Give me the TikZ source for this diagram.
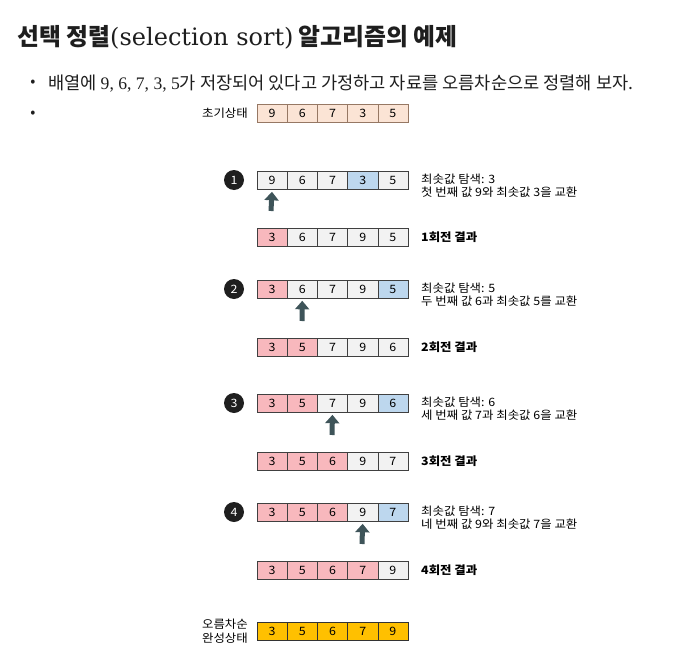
\documentclass[tikz,border=0pt]{standalone}
\usepackage{fontspec}
\setmainfont{Noto Sans CJK KR}
\newfontfamily\serifp{Liberation Serif}
\newfontfamily\serift{DejaVu Serif}
\newfontfamily\diag{Noto Sans CJK KR}[FakeStretch=1.08]
\usetikzlibrary{arrows.meta}
\definecolor{peach}{RGB}{251,228,213}
\definecolor{peachd}{RGB}{150,120,100}
\definecolor{grayc}{RGB}{242,242,242}
\definecolor{pinkc}{RGB}{248,184,189}
\definecolor{bluec}{RGB}{189,215,238}
\definecolor{goldc}{RGB}{255,192,0}
\definecolor{arrowc}{RGB}{62,84,89}
\definecolor{textc}{RGB}{30,30,30}
\tikzset{
  cell/.style={draw=black!75, line width=0.6pt, minimum width=30.2pt, minimum height=18pt, inner sep=0pt, font=\diag\fontsize{11.5}{13}\selectfont},
  lbl/.style={anchor=west, inner sep=0pt, font=\diag\fontsize{11.5}{13}\selectfont, align=left},
  res/.style={anchor=west, inner sep=0pt, font=\diag\fontsize{11.5}{13}\selectfont\bfseries},
  side/.style={inner sep=0pt, font=\diag\fontsize{11.5}{14}\selectfont},
  numc/.style={circle, fill=black!88, text=white, minimum size=20pt, inner sep=0pt, font=\diag\fontsize{11.5}{13}\selectfont},
  bigarrow/.style={draw=arrowc, line width=5pt, -{Triangle[width=14pt,length=8.5pt]}, shorten >=2.5pt},
  body/.style={anchor=base west, inner sep=0pt, text=textc, font=\fontsize{17.6}{20}\selectfont},
}
\newcommand\arow[4][black!75]{%
  \foreach \v/\c [count=\i] in {#4} {
    \node[cell, draw=#1, fill=\c] (#2-\i) at ({257+30.2*(\i-0.5)}, #3) {\v};
  }}
\begin{document}
\begin{tikzpicture}[x=1pt,y=-1pt]
\fill[white] (0,0) rectangle (694,656);
\useasboundingbox (0,0) rectangle (694,656);
\node[anchor=base west, inner sep=0pt, text=textc, font=\fontsize{23.8}{26}\selectfont\bfseries] (title) at (17,45) {선택 정렬{\serift\mdseries\fontsize{24}{26}\selectfont(selection sort)} 알고리즘의 예제};
\node[body, anchor=center, font=\fontsize{15}{18}\selectfont] (d1) at (33,83) {•};
\node[body] (b1) at (48,89) {배열에 {\serifp 9, 6, 7, 3, 5}가 저장되어 있다고 가정하고 자료를 오름차순으로 정렬해 보자.};
\node[body, anchor=center, font=\fontsize{15}{18}\selectfont] (d2) at (33,114) {•};
% initial
\node[side, anchor=east] (init) at (248,113) {초기상태};
\arow[peachd]{r0}{113}{9/peach,6/peach,7/peach,3/peach,5/peach}
% step 1
\node[numc] (c1) at (234,180) {1};
\arow{s1}{180}{9/grayc,6/grayc,7/grayc,3/bluec,5/grayc}
\node[lbl] (t1) at (421,186) {최솟값 탐색: 3\\첫 번째 값 9와 최솟값 3을 교환};
\coordinate (a1) at (271,211);
\draw[bigarrow] (a1) -- (s1-1.south);
\arow{p1}{237}{3/pinkc,6/grayc,7/grayc,9/grayc,5/grayc}
\node[res] (q1) at (421,237) {1회전 결과};
% step 2
\node[numc] (c2) at (234,289) {2};
\arow{s2}{289}{3/pinkc,6/grayc,7/grayc,9/grayc,5/bluec}
\node[lbl] (t2) at (421,295) {최솟값 탐색: 5\\두 번째 값 6과 최솟값 5를 교환};
\coordinate (a2) at (302,321);
\draw[bigarrow] (a2) -- (s2-2.south);
\arow{p2}{347}{3/pinkc,5/pinkc,7/grayc,9/grayc,6/grayc}
\node[res] (q2) at (421,347) {2회전 결과};
% step 3
\node[numc] (c3) at (234,403) {3};
\arow{s3}{403}{3/pinkc,5/pinkc,7/grayc,9/grayc,6/bluec}
\node[lbl] (t3) at (421,409) {최솟값 탐색: 6\\세 번째 값 7과 최솟값 6을 교환};
\coordinate (a3) at (332,435);
\draw[bigarrow] (a3) -- (s3-3.south);
\arow{p3}{461}{3/pinkc,5/pinkc,6/pinkc,9/grayc,7/grayc}
\node[res] (q3) at (421,461) {3회전 결과};
% step 4
\node[numc] (c4) at (234,512) {4};
\arow{s4}{512}{3/pinkc,5/pinkc,6/pinkc,9/grayc,7/bluec}
\node[lbl] (t4) at (421,518) {최솟값 탐색: 7\\네 번째 값 9와 최솟값 7을 교환};
\coordinate (a4) at (362,544);
\draw[bigarrow] (a4) -- (s4-4.south);
\arow{p4}{570}{3/pinkc,5/pinkc,6/pinkc,7/pinkc,9/grayc}
\node[res] (q4) at (421,570) {4회전 결과};
% final
\node[side, anchor=east, align=right] (fin) at (248,631) {오름차순\\완성상태};
\arow[black!80]{f}{631}{3/goldc,5/goldc,6/goldc,7/goldc,9/goldc}
\end{tikzpicture}
\end{document}
